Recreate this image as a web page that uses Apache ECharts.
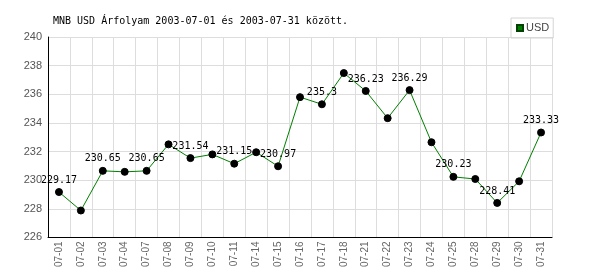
<!DOCTYPE html>
<html>
<head>
<meta charset="utf-8">
<script src="https://cdn.jsdelivr.net/npm/echarts@6/dist/echarts.min.js"></script>
<style>html,body{margin:0;padding:0;background:#fff}#c{width:600px;height:270px}</style>
</head>
<body>
<div id="c"></div>
<script>
const categories = ['07-01','07-02','07-03','07-04','07-07','07-08','07-09','07-10','07-11','07-14','07-15','07-16','07-17','07-18','07-21','07-22','07-23','07-24','07-25','07-28','07-29','07-30','07-31'];
const usdValues = [229.17,227.88,230.65,230.58,230.65,232.5,231.54,231.8,231.15,231.95,230.97,235.8,235.3,237.48,236.23,234.33,236.29,232.65,230.23,230.08,228.41,229.92,233.33];
const titleText = 'MNB USD Árfolyam 2003-07-01 és 2003-07-31 között.';

const chart = echarts.init(document.getElementById('c'), null, {renderer:'canvas'});
chart.setOption({
  animation:false,
  backgroundColor:'#fff',
  title:{text:titleText,left:53,top:16,padding:0,textStyle:{fontFamily:'DejaVu Sans Mono',fontSize:10,fontWeight:'normal',color:'#000'}},
  legend:{data:['USD'],left:511,top:18,orient:'vertical',padding:[4,4,4,5],borderColor:'#d4d4d4',borderWidth:1,
    itemWidth:6,itemHeight:6,itemGap:4,icon:'rect',
    textStyle:{fontFamily:'Liberation Sans',fontSize:11,lineHeight:12,color:'#444',padding:[0,0,0,-2]}},
  grid:{left:48,right:48,top:37,bottom:32,containLabel:false},
  xAxis:{type:'category',data:categories,boundaryGap:true,
    axisLine:{lineStyle:{color:'#000',width:1}},
    axisTick:{show:false},
    axisLabel:{rotate:90,interval:0,fontFamily:'Liberation Sans',fontSize:10,color:'#666',margin:4},
    splitLine:{show:true,interval:0,lineStyle:{color:'#ddd',width:1}}},
  yAxis:{type:'value',min:226,max:240,interval:2,
    axisLine:{show:true,lineStyle:{color:'#000',width:1}},
    axisTick:{show:false},
    axisLabel:{fontFamily:'Liberation Sans',fontSize:11,color:'#555',margin:6},
    splitLine:{show:true,lineStyle:{color:'#ddd',width:1}}},
  series:[{name:'USD',type:'line',
    data:usdValues.map(v=>({value:v,itemStyle:{color:'#000',borderColor:'#000'}})),
    lineStyle:{color:'#008000',width:1},
    itemStyle:{color:'#008000',borderColor:'#004000',borderWidth:1},
    symbol:'circle',symbolSize:7,
    label:{show:true,position:'top',distance:3,fontFamily:'DejaVu Sans Mono',fontSize:10,color:'#000',
      formatter:function(p){return p.dataIndex%2===0?String(p.value):'';}}
  }]
});
</script>
</body>
</html>
